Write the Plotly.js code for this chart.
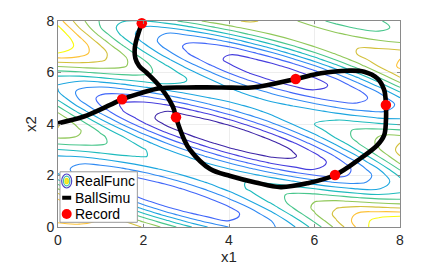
<!DOCTYPE html>
<html>
<head>
<meta charset="utf-8">
<script src="https://cdn.plot.ly/plotly-3.0.1.min.js"></script>
<style>html,body{margin:0;padding:0;background:#fff;}#chart{width:443px;height:270px;}</style>
</head>
<body>
<div id="chart"></div>
<script>
const xGrid = [0,0.5,1,1.5,2,2.5,3,3.5,4,4.5,5,5.5,6,6.5,7,7.5,8];
const yGrid = [0,0.25,0.5,0.75,1,1.25,1.5,1.75,2,2.25,2.5,2.75,3,3.25,3.5,3.75,4,4.25,4.5,4.75,5,5.25,5.5,5.75,6,6.25,6.5,6.75,7,7.25,7.5,7.75,8];
const z00 = [2.79,2.91,2.97,2.86,2.57,2.10,1.54,1.00,0.59,0.41,0.53,0.94,1.56,2.31,3.06,3.69,4.15];
const z01 = [3.11,3.11,2.96,2.61,2.09,1.48,0.88,0.42,0.19,0.26,0.61,1.19,1.88,2.57,3.16,3.56,3.77];
const z02 = [3.33,3.12,2.72,2.15,1.48,0.83,0.32,0.04,0.05,0.35,0.88,1.52,2.16,2.69,3.04,3.20,3.22];
const z03 = [3.35,2.90,2.27,1.55,0.85,0.28,-0.05,-0.09,0.16,0.63,1.22,1.81,2.28,2.58,2.69,2.66,2.57];
const z04 = [3.14,2.46,1.69,0.93,0.31,-0.07,-0.16,0.03,0.45,0.99,1.52,1.95,2.19,2.25,2.16,2.02,1.95];
const z05 = [2.71,1.89,1.08,0.41,-0.03,-0.17,-0.03,0.34,0.82,1.30,1.68,1.87,1.87,1.73,1.54,1.42,1.48];
const z06 = [2.16,1.29,0.57,0.08,-0.11,-0.03,0.29,0.72,1.15,1.47,1.61,1.56,1.37,1.12,0.95,0.96,1.23];
const z07 = [1.57,0.80,0.26,0.01,0.04,0.31,0.68,1.06,1.33,1.42,1.32,1.07,0.77,0.55,0.50,0.73,1.25];
const z08 = [1.09,0.50,0.20,0.18,0.39,0.71,1.04,1.25,1.29,1.14,0.84,0.49,0.21,0.11,0.28,0.75,1.48];
const z09 = [0.80,0.45,0.38,0.54,0.81,1.08,1.24,1.23,1.02,0.67,0.27,-0.06,-0.21,-0.09,0.32,1.00,1.86];
const z10 = [0.77,0.65,0.75,0.97,1.19,1.30,1.23,0.97,0.57,0.12,-0.27,-0.47,-0.40,-0.04,0.59,1.40,2.27];
const z11 = [0.98,1.03,1.20,1.37,1.42,1.30,0.99,0.54,0.03,-0.41,-0.66,-0.65,-0.34,0.24,0.99,1.82,2.59];
const z12 = [1.38,1.49,1.61,1.61,1.44,1.07,0.56,0.01,-0.48,-0.79,-0.83,-0.57,-0.05,0.66,1.43,2.15,2.72];
const z13 = [1.85,1.91,1.86,1.64,1.22,0.66,0.05,-0.49,-0.85,-0.94,-0.74,-0.27,0.38,1.10,1.77,2.29,2.62];
const z14 = [2.28,2.18,1.90,1.44,0.82,0.16,-0.44,-0.85,-0.99,-0.84,-0.42,0.18,0.84,1.46,1.93,2.21,2.30];
const z15 = [2.57,2.24,1.71,1.05,0.33,-0.32,-0.78,-0.97,-0.88,-0.51,0.04,0.65,1.21,1.63,1.86,1.90,1.84];
const z16 = [2.64,2.06,1.34,0.57,-0.13,-0.64,-0.89,-0.84,-0.53,-0.04,0.52,1.03,1.40,1.57,1.57,1.45,1.34];
const z17 = [2.47,1.70,0.88,0.13,-0.44,-0.74,-0.75,-0.49,-0.05,0.46,0.92,1.23,1.35,1.29,1.13,0.96,0.92];
const z18 = [2.12,1.25,0.45,-0.18,-0.53,-0.59,-0.38,0.01,0.47,0.87,1.13,1.20,1.09,0.87,0.65,0.56,0.68];
const z19 = [1.69,0.83,0.16,-0.25,-0.36,-0.21,0.13,0.54,0.89,1.10,1.11,0.95,0.68,0.41,0.26,0.33,0.69];
const z20 = [1.28,0.55,0.10,-0.07,0.03,0.32,0.67,0.97,1.13,1.09,0.87,0.55,0.23,0.02,0.05,0.36,0.96];
const z21 = [1.02,0.51,0.29,0.34,0.57,0.87,1.12,1.22,1.13,0.86,0.49,0.11,-0.14,-0.17,0.09,0.63,1.42];
const z22 = [0.98,0.72,0.71,0.89,1.14,1.33,1.38,1.24,0.92,0.49,0.06,-0.24,-0.33,-0.12,0.38,1.11,1.97];
const z23 = [1.21,1.15,1.28,1.47,1.61,1.61,1.41,1.04,0.56,0.08,-0.28,-0.41,-0.26,0.18,0.86,1.67,2.50];
const z24 = [1.65,1.73,1.87,1.96,1.90,1.66,1.23,0.70,0.16,-0.25,-0.44,-0.34,0.05,0.68,1.44,2.21,2.89];
const z25 = [2.24,2.33,2.37,2.26,1.96,1.48,0.90,0.31,-0.15,-0.39,-0.35,-0.01,0.56,1.27,1.99,2.62,3.07];
const z26 = [2.86,2.85,2.68,2.33,1.80,1.16,0.52,0.01,-0.28,-0.29,0.00,0.52,1.17,1.84,2.41,2.81,3.02];
const z27 = [3.39,3.17,2.77,2.19,1.49,0.80,0.23,-0.11,-0.17,0.07,0.53,1.14,1.75,2.27,2.62,2.77,2.77];
const z28 = [3.73,3.27,2.64,1.89,1.15,0.53,0.13,0.02,0.20,0.62,1.17,1.73,2.20,2.49,2.59,2.54,2.42];
const z29 = [3.84,3.15,2.36,1.56,0.89,0.44,0.27,0.40,0.76,1.26,1.77,2.19,2.43,2.48,2.37,2.20,2.09];
const z30 = [3.73,2.88,2.04,1.31,0.81,0.59,0.67,0.98,1.42,1.88,2.24,2.43,2.43,2.27,2.05,1.88,1.88];
const z31 = [3.48,2.58,1.80,1.25,0.98,1.00,1.26,1.65,2.06,2.37,2.50,2.45,2.24,1.96,1.74,1.69,1.90];
const z32 = [3.19,2.36,1.75,1.43,1.40,1.60,1.94,2.30,2.55,2.64,2.53,2.27,1.94,1.67,1.56,1.72,2.17];

// Ball simulation path
const pathX = [0,0.59,1.22,1.50,1.92,2.38,3.01,3.81,4.59,5.56,6.15,6.77,7.16,7.47,7.63,7.67,7.67,7.63,7.47,7.08,6.48,5.84,5.21,4.62,4.03,3.56,3.09,2.95,2.77,2.69,2.39,2.08,1.90,1.81,1.80,1.96];
const pathY = [4.03,4.28,4.74,4.96,5.19,5.39,5.42,5.42,5.43,5.75,5.97,6.07,6.03,5.77,5.32,4.73,4.10,3.57,3.18,2.67,2.02,1.70,1.55,1.73,1.98,2.25,2.99,3.40,4.20,4.66,5.44,5.98,6.25,6.55,7.00,7.91];

// Recorded points
const recX = [1.96,1.50,2.76,5.56,7.67,6.48];
const recY = [7.91,4.96,4.26,5.75,4.74,2.02];

const tickVals = [0,2,4,6,8];
const legendNames = ['RealFunc','BallSimu','Record'];

const zGrid = [z00,z01,z02,z03,z04,z05,z06,z07,z08,z09,z10,z11,z12,z13,z14,z15,z16,
               z17,z18,z19,z20,z21,z22,z23,z24,z25,z26,z27,z28,z29,z30,z31,z32];

const parula = [
  [0,'rgb(62,38,168)'],[0.111,'rgb(71,65,228)'],[0.222,'rgb(64,113,254)'],
  [0.333,'rgb(40,148,238)'],[0.444,'rgb(20,178,213)'],[0.556,'rgb(40,195,165)'],
  [0.667,'rgb(120,203,103)'],[0.778,'rgb(200,193,60)'],[0.889,'rgb(253,188,59)'],[1,'rgb(249,251,14)']
];

const FONT = 'Liberation Sans, Arial, Helvetica, sans-serif';

const traces = [
  {type:'contour', x:xGrid, y:yGrid, z:zGrid, name:legendNames[0],
   colorscale:parula, zauto:false, zmin:-0.6, zmax:3.4, showscale:false,
   autocontour:false, contours:{start:-0.6,end:3.4,size:0.4,coloring:'lines',showlabels:false},
   line:{width:1.1, smoothing:1.3}, hoverinfo:'skip', showlegend:false},
  {type:'scatter', mode:'lines', x:pathX, y:pathY, name:legendNames[1],
   line:{color:'#000000', width:4.6, shape:'spline', smoothing:1.0}, showlegend:false, hoverinfo:'skip'},
  {type:'scatter', mode:'markers', x:recX, y:recY, name:legendNames[2],
   marker:{color:'#ff0000', size:10.5, line:{width:0}}, showlegend:false, hoverinfo:'skip', cliponaxis:false}
];

const lgX = 0.0254, lgTextX = 0.0447;
const lgY = [0.2233, 0.1420, 0.0631];

const layout = {
  width:443, height:270,
  margin:{l:58, r:43, t:21, b:43, pad:0},
  paper_bgcolor:'#ffffff', plot_bgcolor:'#ffffff',
  showlegend:false,
  font:{family:FONT, size:14, color:'#262626'},
  xaxis:{range:[0,8], tickvals:tickVals, ticks:'inside', ticklen:3, tickcolor:'#8a8a8a',
         showline:true, linecolor:'#8a8a8a', linewidth:1, mirror:'ticks',
         showgrid:true, gridcolor:'#ededed', gridwidth:1, zeroline:false,
         tickfont:{family:FONT, size:14, color:'#262626'},
         title:{text:'x1', font:{family:FONT, size:15, color:'#262626'}, standoff:2}},
  yaxis:{range:[0,8], tickvals:tickVals, ticks:'inside', ticklen:3, tickcolor:'#8a8a8a',
         showline:true, linecolor:'#8a8a8a', linewidth:1, mirror:'ticks',
         showgrid:true, gridcolor:'#ededed', gridwidth:1, zeroline:false,
         tickfont:{family:FONT, size:14, color:'#262626'},
         title:{text:'x2', font:{family:FONT, size:15, color:'#262626'}, standoff:6}},
  shapes:[
    {type:'rect', xref:'paper', yref:'paper', x0:0.0058, x1:0.232, y0:0.0228, y1:0.268,
     fillcolor:'#ffffff', line:{color:'#9a9a9a', width:1}, layer:'above'},
    {type:'circle', xref:'paper', yref:'paper', xsizemode:'pixel', ysizemode:'pixel',
     xanchor:lgX, yanchor:lgY[0], x0:-5, x1:5, y0:-7, y1:7,
     line:{color:'rgb(80,70,200)', width:1.2}, fillcolor:'rgba(0,0,0,0)', layer:'above'},
    {type:'circle', xref:'paper', yref:'paper', xsizemode:'pixel', ysizemode:'pixel',
     xanchor:lgX, yanchor:lgY[0], x0:-3.2, x1:3.2, y0:-4.8, y1:4.8,
     line:{color:'rgb(60,190,170)', width:1.2}, fillcolor:'rgba(0,0,0,0)', layer:'above'},
    {type:'circle', xref:'paper', yref:'paper', xsizemode:'pixel', ysizemode:'pixel',
     xanchor:lgX, yanchor:lgY[0], x0:-1.6, x1:1.6, y0:-2.6, y1:2.6,
     line:{color:'rgb(240,230,20)', width:1.5}, fillcolor:'rgb(240,235,60)', layer:'above'},
    {type:'line', xref:'paper', yref:'paper', xsizemode:'pixel', ysizemode:'pixel',
     xanchor:lgX, yanchor:lgY[1], x0:-4.5, x1:4.5, y0:0, y1:0,
     line:{color:'#000000', width:4}, layer:'above'},
    {type:'circle', xref:'paper', yref:'paper', xsizemode:'pixel', ysizemode:'pixel',
     xanchor:lgX, yanchor:lgY[2], x0:-5, x1:5, y0:-5, y1:5,
     line:{width:0}, fillcolor:'#ff0000', layer:'above'}
  ],
  annotations: legendNames.map((t,i)=>({text:t, xref:'paper', yref:'paper', x:lgTextX, y:lgY[i],
     xanchor:'left', yanchor:'middle', showarrow:false, font:{family:FONT, size:14, color:'#000000'}}))
};

Plotly.newPlot('chart', traces, layout, {staticPlot:true, displayModeBar:false});
</script>
</body>
</html>
